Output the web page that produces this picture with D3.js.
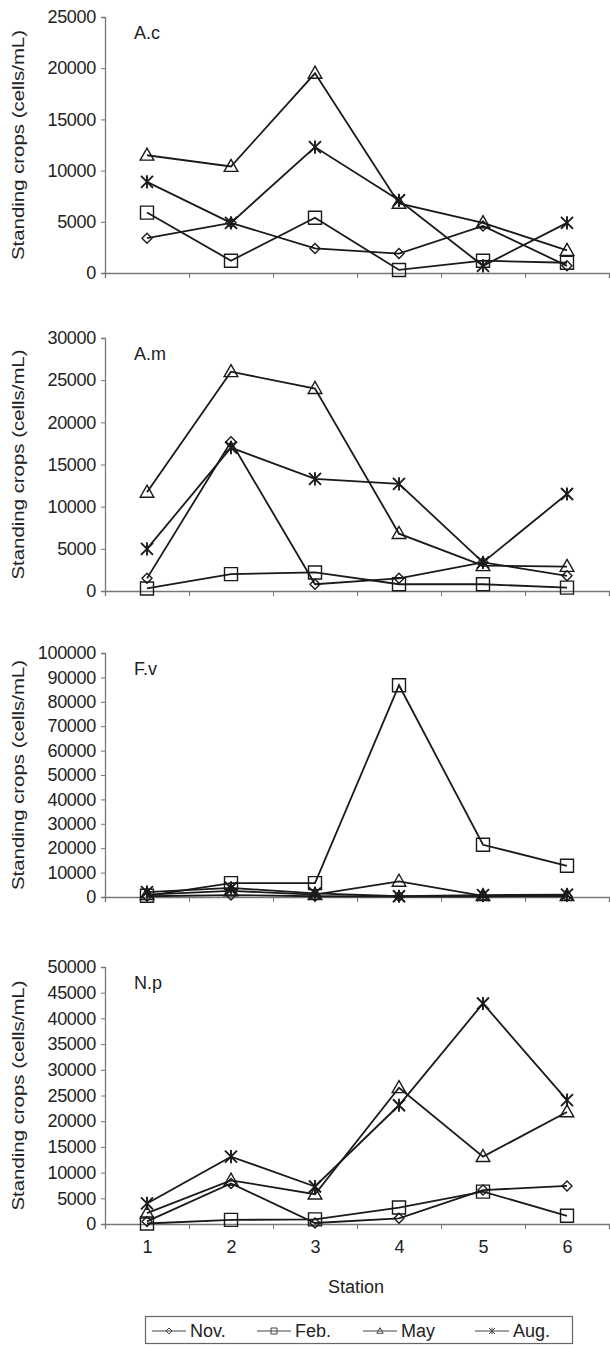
<!DOCTYPE html>
<html>
<head>
<meta charset="utf-8">
<script src="https://cdn.jsdelivr.net/npm/d3@7"></script>
<style>
  body { margin: 0; background: #fff; }
  text { font-family: "Liberation Sans", Arial, sans-serif; fill: #222; }
</style>
</head>
<body>
<div id="chart"></div>
<script>
// Stations and sampling months
const stations = [1, 2, 3, 4, 5, 6]
const months = ["Nov.", "Feb.", "May", "Aug."]

// A.c
const acNov = [3400, 4900, 2400, 1900, 4600, 700]
const acFeb = [5900, 1200, 5400, 300, 1200, 1000]
const acMay = [11500, 10400, 19500, 6800, 4900, 2200]
const acAug = [8900, 4900, 12300, 7100, 700, 4900]

// A.m
const amNov = [1500, 17700, 800, 1500, 3400, 1800]
const amFeb = [300, 2000, 2200, 800, 800, 400]
const amMay = [11700, 26000, 24000, 6800, 3000, 2900]
const amAug = [5000, 17000, 13300, 12700, 3400, 11500]

// F.v
const fvNov = [300, 800, 300, 200, 200, 300]
const fvFeb = [500, 5700, 5700, 86800, 21400, 12800]
const fvMay = [1000, 2500, 1000, 6400, 500, 500]
const fvAug = [2000, 3700, 1500, 300, 800, 1000]

// N.p
const npNov = [500, 7900, 200, 1100, 6600, 7400]
const npFeb = [100, 800, 900, 3200, 6300, 1600]
const npMay = [2100, 8500, 5800, 26500, 13100, 21800]
const npAug = [4000, 13100, 7300, 23100, 42900, 24100]

const panels = [
  { name: "A.c", max: 25000, step: 5000, top: 17, bottom: 273, series: [acNov, acFeb, acMay, acAug] },
  { name: "A.m", max: 30000, step: 5000, top: 338, bottom: 591, series: [amNov, amFeb, amMay, amAug] },
  { name: "F.v", max: 100000, step: 10000, top: 653, bottom: 897, series: [fvNov, fvFeb, fvMay, fvAug] },
  { name: "N.p", max: 50000, step: 5000, top: 967, bottom: 1224, series: [npNov, npFeb, npMay, npAug] }
]

const WIDTH = 610, HEIGHT = 1345
const LEFT = 105, RIGHT = 609
const INK = "#1a1a1a"
const AXIS = "#777"

const svg = d3.select("#chart").append("svg")
    .attr("width", WIDTH)
    .attr("height", HEIGHT)

// x: stations on a linear scale so ticks can sit between categories
const x = d3.scaleLinear()
    .domain([0.5, 6.5])
    .range([LEFT, RIGHT])

// marker shapes: diamond, square, triangle, asterisk
const shapes = ["diamond", "square", "triangle", "asterisk"]
function markerPath(type, s) {
  if (type === "diamond") return `M0,${-s}L${s},0L0,${s}L${-s},0Z`
  if (type === "square") return `M${-s},${-s}H${s}V${s}H${-s}Z`
  if (type === "triangle") return `M0,${-s * 1.1}L${s * 1.05},${s * 0.75}L${-s * 1.05},${s * 0.75}Z`
  return `M${-s},${-s}L${s},${s}M${-s},${s}L${s},${-s}M0,${-s * 1.1}V${s * 1.1}`
}
const markerSize = [5, 6.5, 6.5, 6]

panels.forEach((p, pi) => {
  const y = d3.scaleLinear()
      .domain([0, p.max])
      .range([p.bottom, p.top])

  const g = svg.append("g")

  // Y axis
  const yAxisCall = d3.axisLeft(y)
      .tickValues(d3.range(0, p.max + 1, p.step))
      .tickSize(4)
      .tickPadding(5)
      .tickFormat(d3.format("d"))
  const ya = g.append("g")
      .attr("transform", `translate(${LEFT}, 0)`)
      .call(yAxisCall)
  ya.select(".domain").attr("stroke", AXIS).attr("stroke-width", 1.3)
  ya.selectAll(".tick line").attr("stroke", AXIS)
  ya.selectAll(".tick text")
      .attr("font-size", "18px")
      .attr("letter-spacing", "-0.3px")
      .attr("fill", "#333")

  // X axis, ticks between stations
  const xAxisCall = d3.axisBottom(x)
      .tickValues(d3.range(0.5, 7, 1))
      .tickSize(5)
      .tickFormat("")
  const xa = g.append("g")
      .attr("transform", `translate(0, ${p.bottom})`)
      .call(xAxisCall)
  xa.select(".domain").attr("stroke", AXIS).attr("stroke-width", 1.3)
  xa.selectAll(".tick line").attr("stroke", AXIS)

  if (pi === panels.length - 1) {
    const xl = g.append("g")
        .attr("transform", `translate(0, ${p.bottom})`)
        .call(d3.axisBottom(x).tickValues(stations).tickSize(0).tickPadding(16).tickFormat(d3.format("d")))
    xl.select(".domain").remove()
    xl.selectAll(".tick text").attr("font-size", "18px").attr("fill", "#333")
  }

  // y label
  g.append("text")
      .attr("transform", `translate(24, ${(p.top + p.bottom) / 2}) rotate(-90)`)
      .attr("text-anchor", "middle")
      .attr("font-size", "17px")
      .attr("textLength", 230)
      .attr("lengthAdjust", "spacingAndGlyphs")
      .attr("fill", "#333")
      .text("Standing crops (cells/mL)")

  // panel name
  g.append("text")
      .attr("x", 134)
      .attr("y", p.top + 22)
      .attr("font-size", "18px")
      .text(p.name)

  // lines + markers
  const line = d3.line()
      .x((d, i) => x(stations[i]))
      .y(d => y(d))

  p.series.forEach((vals, si) => {
    g.append("path")
        .datum(vals)
        .attr("d", line)
        .attr("fill", "none")
        .attr("stroke", INK)
        .attr("stroke-width", 1.8)

    g.selectAll(null)
        .data(vals)
        .enter().append("path")
        .attr("transform", (d, i) => `translate(${x(stations[i])}, ${y(d)})`)
        .attr("d", markerPath(shapes[si], markerSize[si]))
        .attr("fill", "none")
        .attr("stroke", INK)
        .attr("stroke-width", si === 3 ? 1.9 : 1.4)
  })
})

// x title
svg.append("text")
    .attr("x", 356)
    .attr("y", 1293)
    .attr("text-anchor", "middle")
    .attr("font-size", "18px")
    .attr("fill", "#333")
    .text("Station")

// legend
const legend = svg.append("g")
legend.append("rect")
    .attr("x", 145.5)
    .attr("y", 1316.5)
    .attr("width", 427)
    .attr("height", 27)
    .attr("fill", "none")
    .attr("stroke", "#666")
    .attr("stroke-width", 1.2)

const legendX = [152, 257, 363, 475]
months.forEach((m, i) => {
  const lg = legend.append("g").attr("transform", `translate(${legendX[i]}, 1331)`)
  lg.append("line")
      .attr("x1", 0).attr("x2", 34)
      .attr("stroke", "#444").attr("stroke-width", 1.2)
  lg.append("path")
      .attr("transform", "translate(17, 0)")
      .attr("d", markerPath(shapes[i], 3))
      .attr("fill", "none")
      .attr("stroke", "#444")
      .attr("stroke-width", 1)
  lg.append("text")
      .attr("x", 38)
      .attr("y", 6)
      .attr("font-size", "18px")
      .attr("fill", "#333")
      .text(m)
})
</script>
</body>
</html>
